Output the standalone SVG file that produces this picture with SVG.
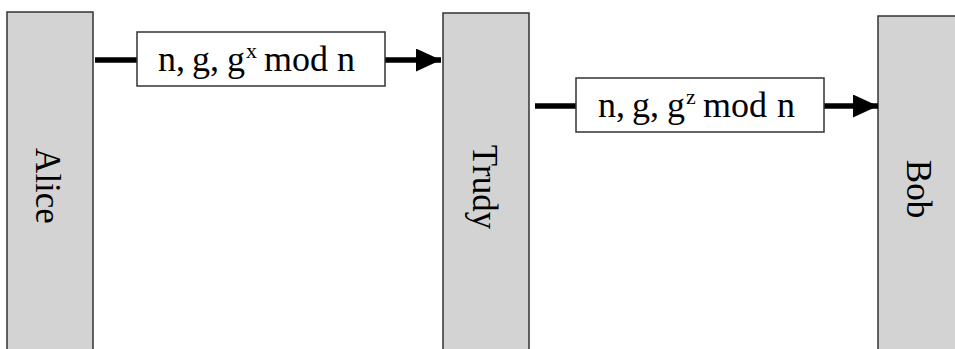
<svg xmlns="http://www.w3.org/2000/svg" width="955" height="349" viewBox="0 0 955 349">
<style>
.bar{fill:#d3d3d3;stroke:#333;stroke-width:1.5}
.lbl{font-family:"Liberation Serif",serif;font-size:35px;fill:#000;text-anchor:middle}
.box{fill:#fff;stroke:#333;stroke-width:1.5}
.msg{font-family:"Liberation Serif",serif;font-size:36px;fill:#000}
.sup{font-size:22px}
.line{stroke:#000;stroke-width:5.5;fill:none}
</style>
<defs>
<marker id="ah" markerWidth="25" markerHeight="23" refX="25" refY="11.5" orient="auto" markerUnits="userSpaceOnUse">
<path d="M0,0 L25,11.5 L0,23 Z" fill="#000"/>
</marker>
</defs>
<g id="alice">
<rect class="bar" x="7" y="12" width="86" height="350"/>
<text class="lbl" transform="translate(36,186) rotate(90)">Alice</text>
</g>
<g id="trudy">
<rect class="bar" x="443" y="13" width="86" height="350"/>
<text class="lbl" transform="translate(473,187) rotate(90)">Trudy</text>
</g>
<g id="bob">
<rect class="bar" x="878" y="16" width="86" height="350"/>
<text class="lbl" transform="translate(907,189) rotate(90)">Bob</text>
</g>
<g id="connectors">
<line class="line" x1="95" y1="60" x2="137" y2="60"/>
<line class="line" x1="385" y1="60" x2="441" y2="60" marker-end="url(#ah)"/>
<line class="line" x1="535" y1="106" x2="576" y2="106"/>
<line class="line" x1="824" y1="106" x2="878" y2="106" marker-end="url(#ah)"/>
</g>
<g id="msg1">
<rect class="box" x="137" y="32" width="248" height="54"/>
<text class="msg" y="71"><tspan x="158">n,</tspan><tspan x="192">g,</tspan><tspan x="227">g</tspan><tspan class="sup" x="246" y="58">x</tspan><tspan x="264" y="71">mod</tspan><tspan x="337">n</tspan></text>
</g>
<g id="msg2">
<rect class="box" x="576" y="78" width="248" height="54"/>
<text class="msg" y="117"><tspan x="598">n,</tspan><tspan x="632">g,</tspan><tspan x="667">g</tspan><tspan class="sup" x="686" y="104">z</tspan><tspan x="703" y="117">mod</tspan><tspan x="777">n</tspan></text>
</g>
</svg>
